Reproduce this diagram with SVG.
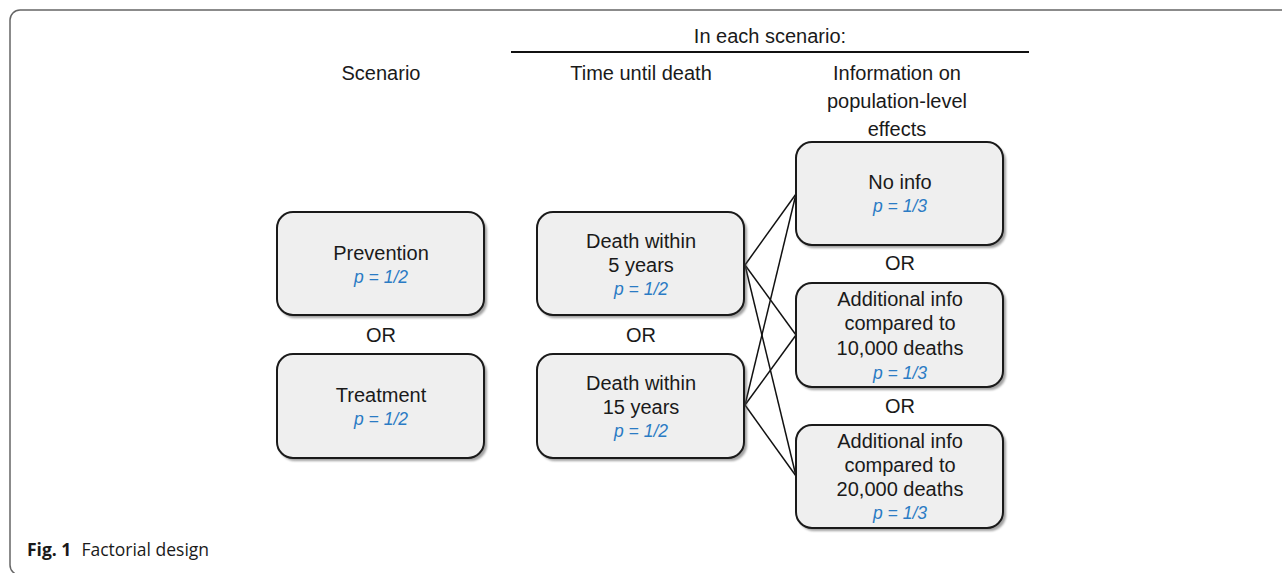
<svg xmlns="http://www.w3.org/2000/svg" width="1282" height="573" viewBox="0 0 1282 573">
<style>
.t{font-family:"Liberation Sans",Arial,sans-serif;font-size:20px;fill:#1a1a1a;text-anchor:middle}
.p{font-family:"Liberation Sans",Arial,sans-serif;font-size:17.5px;font-style:italic;fill:#2a7bc4;text-anchor:middle}
.box{fill:#efefef;stroke:#1a1a1a;stroke-width:2}
.sh{fill:#555;opacity:0.55}
.c{stroke:#111;stroke-width:1.5;fill:none}
</style>
<defs>
<filter id="blur" x="-10%" y="-10%" width="120%" height="120%"><feGaussianBlur stdDeviation="1"/></filter>
</defs>
<rect x="10" y="10" width="1290" height="565" rx="10" fill="#fff" stroke="#666" stroke-width="1.5"/>
<g id="headers">
<text class="t" x="381" y="80">Scenario</text>
<text class="t" x="770" y="43">In each scenario:</text>
<line x1="511" y1="52" x2="1029" y2="52" stroke="#111" stroke-width="2"/>
<text class="t" x="641" y="80">Time until death</text>
<text class="t" x="897" y="80">Information on</text>
<text class="t" x="897" y="108">population-level</text>
<text class="t" x="897" y="136">effects</text>
</g>
<g id="connectors">
<line class="c" x1="745" y1="265" x2="796" y2="194"/>
<line class="c" x1="745" y1="265" x2="796" y2="335"/>
<line class="c" x1="745" y1="265" x2="796" y2="476"/>
<line class="c" x1="745" y1="405" x2="796" y2="194"/>
<line class="c" x1="745" y1="405" x2="796" y2="335"/>
<line class="c" x1="745" y1="405" x2="796" y2="476"/>
</g>
<g id="prevention">
<rect class="sh" x="279" y="215" width="208" height="103" rx="16" filter="url(#blur)"/>
<rect class="box" x="277" y="212" width="207" height="103" rx="16"/>
<text class="t" x="381" y="260">Prevention</text>
<text class="p" x="381" y="283">p = 1/2</text>
</g>
<text class="t" x="381" y="342">OR</text>
<g id="treatment">
<rect class="sh" x="279" y="357" width="208" height="104" rx="16" filter="url(#blur)"/>
<rect class="box" x="277" y="354" width="207" height="104" rx="16"/>
<text class="t" x="381" y="402">Treatment</text>
<text class="p" x="381" y="425">p = 1/2</text>
</g>
<g id="death5">
<rect class="sh" x="539" y="215" width="208" height="103" rx="16" filter="url(#blur)"/>
<rect class="box" x="537" y="212" width="207" height="103" rx="16"/>
<text class="t" x="641" y="248">Death within</text>
<text class="t" x="641" y="272">5 years</text>
<text class="p" x="641" y="295">p = 1/2</text>
</g>
<text class="t" x="641" y="342">OR</text>
<g id="death15">
<rect class="sh" x="539" y="357" width="208" height="104" rx="16" filter="url(#blur)"/>
<rect class="box" x="537" y="354" width="207" height="104" rx="16"/>
<text class="t" x="641" y="390">Death within</text>
<text class="t" x="641" y="414">15 years</text>
<text class="p" x="641" y="437">p = 1/2</text>
</g>
<g id="noinfo">
<rect class="sh" x="798" y="145" width="208" height="103" rx="16" filter="url(#blur)"/>
<rect class="box" x="796" y="142" width="207" height="103" rx="16"/>
<text class="t" x="900" y="189">No info</text>
<text class="p" x="900" y="212">p = 1/3</text>
</g>
<text class="t" x="900" y="270">OR</text>
<g id="info10000">
<rect class="sh" x="798" y="286" width="208" height="104" rx="16" filter="url(#blur)"/>
<rect class="box" x="796" y="283" width="207" height="104" rx="16"/>
<text class="t" x="900" y="306">Additional info</text>
<text class="t" x="900" y="330">compared to</text>
<text class="t" x="900" y="355">10,000 deaths</text>
<text class="p" x="900" y="379">p = 1/3</text>
</g>
<text class="t" x="900" y="413">OR</text>
<g id="info20000">
<rect class="sh" x="798" y="428" width="208" height="103" rx="16" filter="url(#blur)"/>
<rect class="box" x="796" y="425" width="207" height="103" rx="16"/>
<text class="t" x="900" y="448">Additional info</text>
<text class="t" x="900" y="472">compared to</text>
<text class="t" x="900" y="496">20,000 deaths</text>
<text class="p" x="900" y="519">p = 1/3</text>
</g>
<g id="caption">
<text x="27" y="556" font-family="'Open Sans','Noto Sans',sans-serif" font-size="17.5" fill="#1a1a1a"><tspan font-weight="bold">Fig. 1</tspan><tspan dx="10">Factorial design</tspan></text>
</g>
</svg>
